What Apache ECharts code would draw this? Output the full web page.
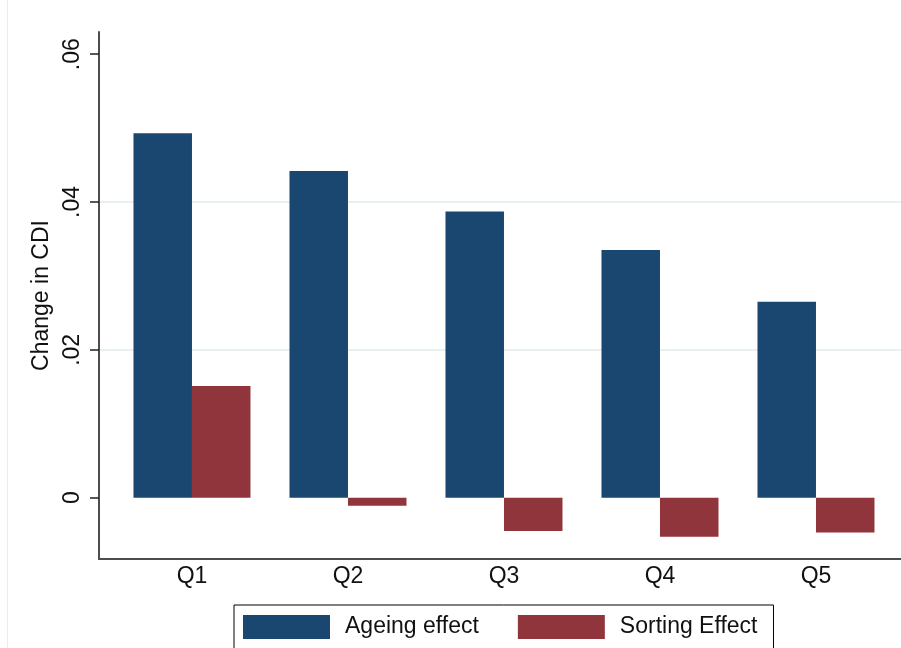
<!DOCTYPE html>
<html>
<head>
<meta charset="utf-8">
<style>
  html, body { margin: 0; padding: 0; background: #fff; }
  #chart { width: 901px; height: 648px; }
</style>
<script src="https://cdn.jsdelivr.net/npm/echarts@6/dist/echarts.min.js"></script>
</head>
<body>
<div id="chart"></div>
<script>
// Quintile groups and the two decomposition components of the CDI change
const categories = ['Q1', 'Q2', 'Q3', 'Q4', 'Q5'];
const ageingEffect = [0.0493, 0.0442, 0.0387, 0.0335, 0.0265];
const sortingEffect = [0.0151, -0.0011, -0.0045, -0.0053, -0.0047];
const yTicks = [0, 0.02, 0.04, 0.06];
const yTickLabels = ['0', '.02', '.04', '.06'];

const FONT = '"Liberation Sans", Arial, sans-serif';
const FONT_SIZE = 23;
const AXIS_COLOR = '#4d4d4d';

// groups sit at positions 1..5 on a numeric x axis
const pos = categories.map((_, i) => i + 1);
const toPoints = vals => vals.map((v, i) => [pos[i], v]);

const chart = echarts.init(document.getElementById('chart'), null, { renderer: 'canvas' });

chart.setOption({
  animation: false,
  backgroundColor: '#ffffff',
  textStyle: { fontFamily: FONT },
  grid: { left: 99, right: 0, top: 32, bottom: 89, containLabel: false },
  graphic: [{
    type: 'line',
    shape: { x1: 7.5, y1: 0, x2: 7.5, y2: 648 },
    style: { stroke: '#ececec', lineWidth: 1 },
    silent: true
  }],
  xAxis: {
    type: 'value',
    min: 0.404,
    max: 5.545,
    axisLine: { show: true, onZero: false, lineStyle: { color: AXIS_COLOR, width: 2 } },
    axisTick: { show: false },
    splitLine: { show: false },
    axisLabel: {
      customValues: pos,
      formatter: v => categories[Math.round(v) - 1] || '',
      color: '#111',
      fontSize: FONT_SIZE,
      fontFamily: FONT,
      margin: 6
    }
  },
  yAxis: {
    type: 'value',
    min: -0.0083,
    max: 0.063,
    minInterval: 0.02,
    maxInterval: 0.02,
    name: 'Change in CDI',
    nameLocation: 'middle',
    nameRotate: 90,
    nameGap: 42,
    nameTextStyle: { color: '#111', fontSize: FONT_SIZE, fontFamily: FONT },
    axisLine: { show: true, onZero: false, lineStyle: { color: AXIS_COLOR, width: 2 } },
    axisTick: {
      show: true,
      customValues: yTicks,
      length: 9,
      lineStyle: { color: '#222', width: 1.5 }
    },
    axisLabel: {
      customValues: yTicks,
      formatter: v => {
        const i = yTicks.findIndex(t => Math.abs(t - v) < 1e-9);
        return i >= 0 ? yTickLabels[i] : '';
      },
      rotate: 90,
      color: '#111',
      fontSize: FONT_SIZE,
      fontFamily: FONT,
      margin: 15
    },
    splitLine: {
      show: true,
      showMinLine: false,
      showMaxLine: false,
      lineStyle: { color: '#e8f0f1', width: 2 }
    }
  },
  legend: {
    left: 234,
    top: 605,
    orient: 'horizontal',
    padding: [10, 16, 16, 9],
    borderColor: '#000',
    borderWidth: 1,
    itemWidth: 87,
    itemHeight: 24,
    itemGap: 39,
    icon: 'rect',
    textStyle: { color: '#111', fontSize: FONT_SIZE, fontFamily: FONT, padding: [0, 0, 0, 10] },
    data: ['Ageing effect', 'Sorting Effect']
  },
  series: [
    {
      name: 'Ageing effect',
      type: 'bar',
      data: toPoints(ageingEffect),
      barWidth: 58.5,
      barGap: '0%',
      itemStyle: { color: '#1a476f' }
    },
    {
      name: 'Sorting Effect',
      type: 'bar',
      data: toPoints(sortingEffect),
      barWidth: 58.5,
      barGap: '0%',
      itemStyle: { color: '#90353b' }
    }
  ]
});
</script>
</body>
</html>
